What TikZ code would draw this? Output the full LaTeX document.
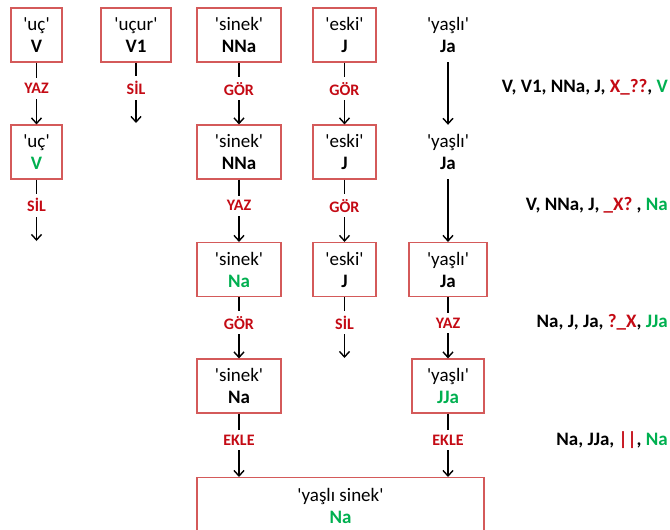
\documentclass[tikz,border=0pt]{standalone}
\usepackage{fontspec}
\setmainfont{Carlito}[Ligatures=TeXOff]
\usepackage{xcolor}
\usepackage{tikz}
\usetikzlibrary{arrows.meta}

\definecolor{boxred}{RGB}{212,90,90}
\definecolor{opred}{RGB}{196,10,20}
\definecolor{okgreen}{RGB}{0,176,80}
\newcommand{\q}[1]{'#1'}
\newcommand{\ok}[1]{\textcolor{okgreen}{#1}}
\newcommand{\bad}[1]{\textcolor{opred}{#1}}

\begin{document}
\begin{tikzpicture}[x=1pt, y=-1pt,
    box/.style={draw=boxred, line width=1.1pt, fill=white, align=center, minimum height=54pt, inner sep=0pt, font=\fontsize{19}{22}\selectfont},
    word/.style={align=center, minimum height=54pt, inner sep=0pt, font=\fontsize{19}{22}\selectfont},
    op/.style={fill=white, text=opred, inner xsep=2pt, inner ysep=5pt, pos=0.42, font=\bfseries\fontsize{16}{18}\selectfont},
    flow/.style={line width=1.4pt, -{Straight Barb[length=5.5pt,width=10pt]}},
    list/.style={anchor=east, inner sep=0pt, font=\bfseries\fontsize{19}{22}\selectfont}]
        \clip (0,0) rectangle (670,530);

        % uc
        \node[box, minimum width=51pt] (uc1) at (36.5,35) {\q{uç}\\\textbf{V}};
        \node[box, minimum width=51pt] (uc2) at (36.5,152) {\q{uç}\\\textbf{\ok{V}}};
        \coordinate (uc3) at (36.5,241);
        \draw[flow] (uc1) -- node[op]{YAZ} (uc2);
        \draw[flow] (uc2) -- node[op]{SİL} (uc3);

        % ucur
        \node[box, minimum width=70pt] (ucur1) at (136,35) {\q{uçur}\\\textbf{V1}};
        \coordinate (ucur2) at (136,123);
        \draw[flow] (ucur1) -- node[op]{SİL} (ucur2);

        % sinek
        \node[box, minimum width=84pt] (sin1) at (239,35) {\q{sinek}\\\textbf{NNa}};
        \node[box, minimum width=84pt] (sin2) at (239,152) {\q{sinek}\\\textbf{NNa}};
        \node[box, minimum width=84pt] (sin3) at (239,269.5) {\q{sinek}\\\textbf{\ok{Na}}};
        \node[box, minimum width=84pt] (sin4) at (239,386) {\q{sinek}\\\textbf{Na}};
        \draw[flow] (sin1) -- node[op]{GÖR} (sin2);
        \draw[flow] (sin2) -- node[op]{YAZ} (sin3);
        \draw[flow] (sin3) -- node[op]{GÖR} (sin4);

        % eski
        \node[box, minimum width=63pt] (esk1) at (344.5,35) {\q{eski}\\\textbf{J}};
        \node[box, minimum width=63pt] (esk2) at (344.5,152) {\q{eski}\\\textbf{J}};
        \node[box, minimum width=63pt] (esk3) at (344.5,269.5) {\q{eski}\\\textbf{J}};
        \coordinate (esk4) at (344.5,358);
        \draw[flow] (esk1) -- node[op]{GÖR} (esk2);
        \draw[flow] (esk2) -- node[op]{GÖR} (esk3);
        \draw[flow] (esk3) -- node[op]{SİL} (esk4);

        % yasli
        \node[word] (yas1) at (448,35) {\q{yaşlı}\\\textbf{Ja}};
        \node[word] (yas2) at (448,152) {\q{yaşlı}\\\textbf{Ja}};
        \node[box, minimum width=78pt] (yas3) at (448,269.5) {\q{yaşlı}\\\textbf{Ja}};
        \node[box, minimum width=72pt] (yas4) at (448,386) {\q{yaşlı}\\\textbf{\ok{JJa}}};
        \draw[flow] (yas1) -- (yas2);
        \draw[flow] (yas2) -- (yas3);
        \draw[flow] (yas3) -- node[op]{YAZ} (yas4);

        % yasli sinek
        \node[box, minimum width=287pt, minimum height=56pt, anchor=north] (ys) at (340.5,477) {\q{yaşlı sinek}\\\textbf{\ok{Na}}};
        \draw[flow] (sin4) -- node[op]{EKLE} (sin4 |- ys.north);
        \draw[flow] (yas4) -- node[op]{EKLE} (yas4 |- ys.north);

        % listeler
        \node[list] (l1) at (668,87) {V, V1, NNa, J, \bad{X\_??}, \ok{V}};
        \node[list] (l2) at (668,205) {V, NNa, J, \bad{\_X?} , \ok{Na}};
        \node[list] (l3) at (668,322) {Na, J, Ja, \bad{?\_X}, \ok{JJa}};
        \node[list] (l4) at (668,440) {Na, JJa, \bad{||}, \ok{Na}};
    \end{tikzpicture}
\end{document}
